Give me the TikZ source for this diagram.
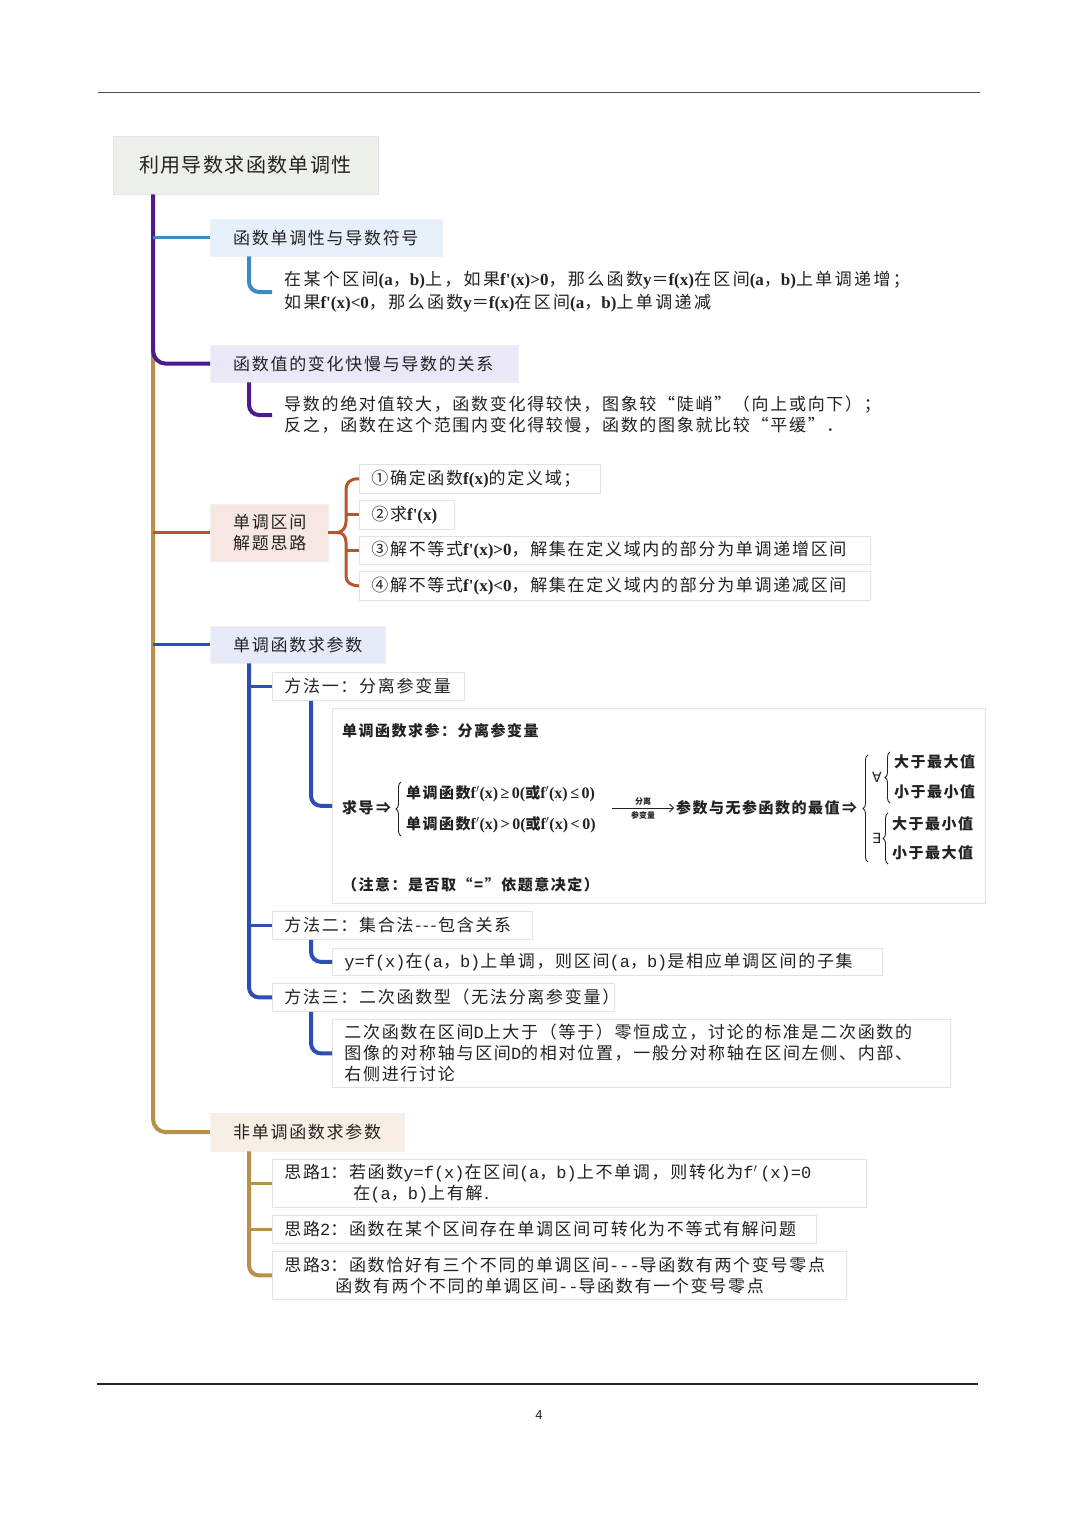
\documentclass[tikz,border=0pt]{standalone}
\usepackage{fontspec}
\setmainfont{Noto Sans CJK SC}
\newfontfamily\cjksp{Noto Sans CJK SC}[LetterSpace=10]
\newfontfamily\cjkw{Noto Sans CJK SC}[LetterSpace=14]
\newfontfamily\cjkt{Noto Sans CJK SC}[LetterSpace=7]
\newfontfamily\tms{Liberation Serif}
\newfontfamily\mono{Liberation Mono}
\newfontfamily\lsans{Liberation Sans}
\newfontfamily\dvs{DejaVu Sans}
\usetikzlibrary{decorations.pathreplacing,arrows.meta}
\definecolor{cpur}{HTML}{4A1A8F}
\definecolor{cteal}{HTML}{3B8BC2}
\definecolor{cgold}{HTML}{B8904A}
\definecolor{cbrown}{HTML}{B5562C}
\definecolor{cblue}{HTML}{2D4FB5}
\definecolor{ftitle}{HTML}{EDEFEA}
\definecolor{fb1}{HTML}{E6F0FB}
\definecolor{fb2}{HTML}{EAE8F8}
\definecolor{fb3}{HTML}{F8E6E2}
\definecolor{fb4}{HTML}{E5E9F8}
\definecolor{fb5}{HTML}{F7EFE3}
\definecolor{txtc}{HTML}{222222}
\definecolor{edge}{HTML}{E2E2E2}
\newcommand\tb[1]{{\tms\bfseries #1}}
\newcommand\tf[1]{{\fontsize{16}{18}\tms\bfseries #1}}
\newcommand\mn[1]{{\mono #1}}
\begin{document}
\begin{tikzpicture}[x=1pt,y=-1pt,
  bx/.style n args={4}{anchor=north west, minimum width=#1, minimum height=#2,
     inner xsep=#3, inner ysep=0pt, text width=#4, align=left, text=txtc},
  tx/.style={font=\fontsize{17}{21}\cjksp},
  itembox/.style={draw=edge, fill=white, line width=0.8pt},
  spine/.style={line width=4pt, rounded corners=13pt},
  branch/.style={line width=3.5pt},
  sub/.style={line width=4pt, rounded corners=10pt},
  fx/.style={font=\fontsize{15}{18}\cjksp\bfseries, text=txtc, inner sep=0pt, anchor=west},
  brc/.style={decorate, decoration={brace, amplitude=5pt}, line width=0.9pt, draw=txtc},
  tiny/.style={font=\fontsize{8}{9}\selectfont\bfseries, text=txtc, inner sep=0pt}
]
\useasboundingbox (0,0) rectangle (1080,1514);
\fill[white] (0,0) rectangle (1080,1514);
% page rules
\draw[black!70, line width=0.9pt] (98,92) -- (980,92);
\draw[black!85, line width=1.6pt] (97,1384) -- (978,1384);
\node[font=\fontsize{13}{15}\lsans, text=txtc] (pg) at (539,1415) {4};

% title
\node[bx={265pt}{58pt}{26pt}{213pt}, fill=ftitle, draw=black!10, font=\fontsize{20}{24}\cjkt] (title) at (113,136) {利用导数求函数单调性};
\coordinate (sp) at ([xshift=40pt]title.south west);

% level-1 boxes
\node[bx={232pt}{37pt}{23pt}{186pt}, fill=fb1, draw=black!6, tx] (b1) at (210,219) {函数单调性与导数符号};
\node[bx={308pt}{37pt}{23pt}{262pt}, fill=fb2, draw=black!6, tx] (b2) at (210,345) {函数值的变化快慢与导数的关系};
\node[bx={118pt}{57pt}{23pt}{72pt}, fill=fb3, draw=black!6, font=\fontsize{17}{21}\cjksp] (b3) at (210,504) {单调区间\\解题思路};
\node[bx={175pt}{37pt}{23pt}{129pt}, fill=fb4, draw=black!6, tx] (b4) at (210,626) {单调函数求参数};
\node[bx={194pt}{38pt}{23pt}{148pt}, fill=fb5, draw=black!6, tx] (b5) at (210,1113) {非单调函数求参数};

% spine
\coordinate (g0) at ([yshift=14pt]sp |- b2.west);
\draw[spine, cgold] (g0) |- (b5.west);
\draw[spine, cpur] (sp) |- (b2.west);
\draw[branch, cteal] (sp |- b1.west) -- (b1.west);
\draw[branch, cbrown] (sp |- b3.west) -- (b3.west);
\draw[branch, cblue] (sp |- b4.west) -- (b4.west);

% branch 1 text
\node[anchor=west, inner xsep=12pt, inner ysep=0pt, align=left, text=txtc, font=\fontsize{17}{23}\cjkw] (t1) at (272,292)
 {在某个区间\tb{(a}，\tb{b)}上，如果\tb{f'(x)>0}，那么函数\tb{y}＝\tb{f(x)}在区间\tb{(a}，\tb{b)}上单调递增；\\
  如果\tb{f'(x)<0}，那么函数\tb{y}＝\tb{f(x)}在区间\tb{(a}，\tb{b)}上单调递减};
\draw[sub, cteal] ([xshift=39pt]b1.south west) |- (t1.west);

% branch 2 text
\node[anchor=west, inner xsep=12pt, inner ysep=0pt, align=left, text=txtc, font=\fontsize{17}{21}\cjksp] (t2) at (272,415)
 {导数的绝对值较大，函数变化得较快，图象较“陡峭”（向上或向下）；\\
  反之，函数在这个范围内变化得较慢，函数的图象就比较“平缓”．};
\draw[sub, cpur] ([xshift=39pt]b2.south west) |- (t2.west);

% branch 3 items
\node[bx={241pt}{29pt}{12pt}{217pt}, itembox, tx] (i1) at (359,464) {①确定函数\tb{f(x)}的定义域；};
\node[bx={95pt}{29pt}{12pt}{71pt}, itembox, tx] (i2) at (359,500) {②求\tb{f'(x)}};
\node[bx={511pt}{28pt}{12pt}{487pt}, itembox, tx] (i3) at (359,536) {③解不等式\tb{f'(x)>0}，解集在定义域内的部分为单调递增区间};
\node[bx={511pt}{29pt}{12pt}{487pt}, itembox, tx] (i4) at (359,571) {④解不等式\tb{f'(x)<0}，解集在定义域内的部分为单调递减区间};
\draw[branch, cbrown] (b3.east) -- ++(9,0) coordinate (bm);
\coordinate (bx) at (346,532);
\draw[line width=3pt, cbrown, line join=round]
  (i1.west) .. controls (350,478.5) and (346,482) .. (346,491) -- (346,522)
  .. controls (346,528) and (342,532) .. (bm)
  .. controls (342,532) and (346,536) .. (346,542) -- (346,576)
  .. controls (346,582) and (350,585.5) .. (i4.west);
\draw[line width=3pt, cbrown] (i2.west -| bx) -- (i2.west);
\draw[line width=3pt, cbrown] (i3.west -| bx) -- (i3.west);

% branch 4
\node[bx={192pt}{28pt}{12pt}{168pt}, itembox, tx] (m1) at (272,672) {方法一：分离参变量};
\node[bx={260pt}{28pt}{12pt}{236pt}, itembox, tx] (m2) at (272,911) {方法二：集合法---包含关系};
\node[bx={342pt}{28pt}{12pt}{318pt}, itembox, tx] (m3) at (272,983) {方法三：二次函数型（无法分离参变量）};
\coordinate (s4) at ([xshift=39pt]b4.south west);
\draw[sub, cblue] (s4) |- (m3.west);
\draw[branch, cblue] (s4 |- m1.west) -- (m1.west);
\draw[branch, cblue] (s4 |- m2.west) -- (m2.west);

% formula box
\node[anchor=north west, minimum width=653pt, minimum height=195pt, itembox, inner sep=0pt] (fbox) at (332,708) {};
\draw[sub, cblue] ([xshift=39pt]m1.south west) |- (fbox.west);
\node[fx] (ft) at (342,731) {单调函数求参：分离参变量};
\node[fx] (fq) at (342,808) {求导\,⇒};
\node[fx] (fa) at (406,794) {单调函数\tf{f$'$(x)}\,\tf{≥}\,\tf{0(}或\tf{f$'$(x)}\,\tf{≤}\,\tf{0)}};
\node[fx] (fb) at (406,825) {单调函数\tf{f$'$(x)}\,\tf{>}\,\tf{0(}或\tf{f$'$(x)}\,\tf{<}\,\tf{0)}};
\draw[brc] (401,836) -- (401,782);
\coordinate (ar1) at (612,808);
\coordinate (ar2) at (674,808);
\draw[-{Straight Barb[length=4pt]}, line width=0.8pt, txtc] (ar1) -- (ar2);
\node[tiny] (al1) at (643,801) {分离};
\node[tiny] (al2) at (643,815) {参变量};
\node[fx] (fr) at (676,808) {参数与无参函数的最值\,⇒};
\draw[brc] (868,862) -- (868,755);
\node[fx, font=\fontsize{14}{16}\dvs] (fall) at (872,777) {∀};
\draw[brc] (890,803) -- (890,752);
\node[fx] (c1) at (894,762) {大于最大值};
\node[fx] (c2) at (894,792) {小于最小值};
\node[fx, font=\fontsize{14}{16}\dvs] (fex) at (872,838) {∃};
\draw[brc] (888,864) -- (888,813);
\node[fx] (c3) at (892,824) {大于最小值};
\node[fx] (c4) at (892,853) {小于最大值};
\node[fx] (fn) at (342,885) {（注意：是否取“=”依题意决定）};

% method 2, 3 details
\node[bx={550pt}{27pt}{12pt}{526pt}, itembox, tx] (s2) at (332,948) {\mn{y=f(x)}在\mn{(a}，\mn{b)}上单调，则区间\mn{(a}，\mn{b)}是相应单调区间的子集};
\draw[sub, cblue] ([xshift=39pt]m2.south west) |- (s2.west);
\node[bx={618pt}{68pt}{12pt}{594pt}, itembox, font=\fontsize{17}{21}\cjksp] (s3) at (332,1019)
 {二次函数在区间\mn{D}上大于（等于）零恒成立，讨论的标准是二次函数的\\图像的对称轴与区间\mn{D}的相对位置，一般分对称轴在区间左侧、内部、\\右侧进行讨论};
\draw[sub, cblue] ([xshift=39pt]m3.south west) |- (s3.west);

% branch 5
\node[bx={594pt}{48pt}{12pt}{570pt}, itembox, font=\fontsize{17}{21}\cjksp] (n1) at (272,1159)
 {思路\mn{1}：若函数\mn{y=f(x)}在区间\mn{(a}，\mn{b)}上不单调，则转化为\mn{f$'$}\,\mn{(x)=0}\\\hspace*{69pt}在\mn{(a}，\mn{b)}上有解.};
\node[bx={544pt}{28pt}{12pt}{520pt}, itembox, tx] (n2) at (272,1215) {思路\mn{2}：函数在某个区间存在单调区间可转化为不等式有解问题};
\node[bx={574pt}{48pt}{12pt}{550pt}, itembox, font=\fontsize{17}{21}\cjksp] (n3) at (272,1251)
 {思路\mn{3}：函数恰好有三个不同的单调区间\mn{---}导函数有两个变号零点\\\hspace*{51pt}函数有两个不同的单调区间\mn{--}导函数有一个变号零点};
\coordinate (s5) at ([xshift=39pt]b5.south west);
\draw[sub, cgold] (s5) |- (n3.west);
\draw[branch, cgold] (s5 |- n1.west) -- (n1.west);
\draw[branch, cgold] (s5 |- n2.west) -- (n2.west);
\end{tikzpicture}
\end{document}
